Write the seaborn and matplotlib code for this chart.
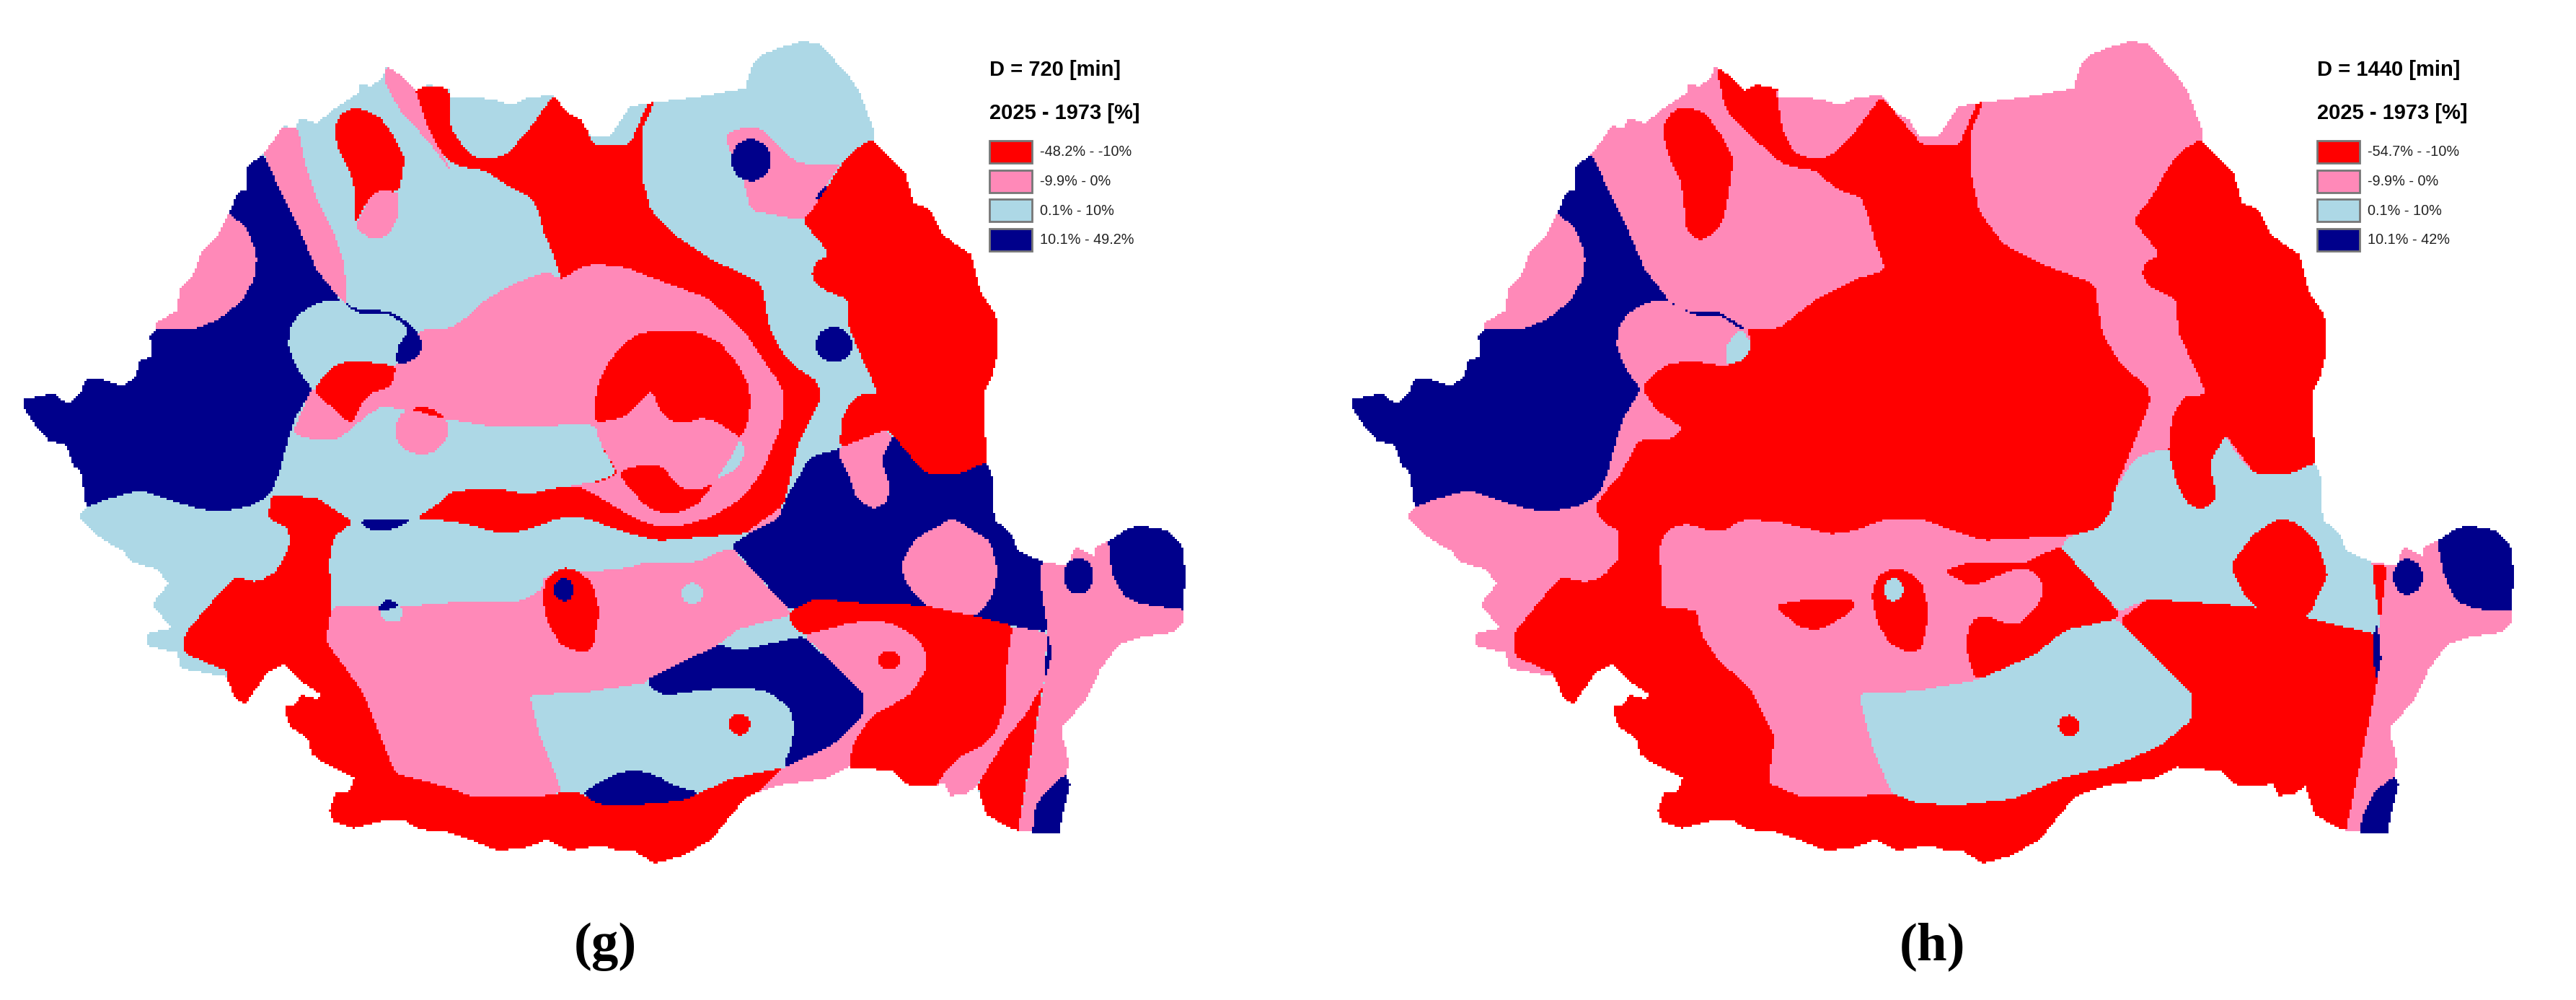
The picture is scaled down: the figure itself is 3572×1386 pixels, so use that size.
import numpy as np
import matplotlib
matplotlib.use("Agg")
import matplotlib.pyplot as plt
from matplotlib.colors import ListedColormap
from matplotlib.patches import Rectangle
from matplotlib.path import Path
import seaborn as sns

#Class colours and labels
class_colors = ["#FF0000", "#FF89B8", "#ADD8E6", "#00008B"]
RED, PINK, BLUE, NAVY = 0, 1, 2, 3
labels_g = ["-48.2% - -10%", "-9.9% - 0%", "0.1% - 10%", "10.1% - 49.2%"]
labels_h = ["-54.7% - -10%", "-9.9% - 0%", "0.1% - 10%", "10.1% - 42%"]

#Traced map vertices (units of the tracing sheet, scaled to pixels below)
outline = [(30,1240),(45,1232),(65,1222),(82,1255),(98,1220),(104,1180),(120,1175),(148,1198),(165,1170),(170,1115),(185,1110),(182,1040),(190,1020),(190,1000),(215,965),(218,900),(235,850),(245,780),(262,740),(278,660),(290,595),(300,590),(300,520),(318,480),(328,450),(345,390),(358,400),(365,365),(385,382),(410,330),(435,290),(438,258),(450,270),(465,240),(470,205),(490,240),(505,280),(520,262),(545,275),(548,300),(575,300),(600,310),(622,325),(645,300),(672,298),(690,350),(705,370),(718,425),(742,420),(765,330),(795,318),(850,300),(905,275),(915,195),(925,170),(945,150),(975,128),(995,135),(1015,190),(1030,230),(1045,290),(1052,340),(1063,415),(1060,432),(1080,490),(1100,540),(1110,630),(1130,650),(1145,730),(1180,790),(1190,900),(1210,980),(1212,1100),(1205,1170),(1195,1220),(1198,1430),(1205,1480),(1208,1613),(1228,1658),(1237,1710),(1266,1744),(1291,1755),(1305,1751),(1300,1729),(1307,1699),(1330,1729),(1330,1699),(1346,1680),(1371,1639),(1387,1632),(1419,1647),(1436,1695),(1440,1776),(1437,1896),(1436,1941),(1423,1964),(1384,1979),(1359,2001),(1337,2076),(1319,2173),(1291,2255),(1291,2292),(1296,2330),(1298,2382),(1294,2404),(1300,2434),(1291,2524),(1287,2586),(1265,2588),(1232,2576),(1198,2531),(1187,2442),(1173,2464),(1155,2472),(1146,2427),(1139,2438),(1105,2442),(1083,2390),(1069,2390),(1030,2382),(1005,2416),(947,2438),(908,2472),(890,2524),(865,2606),(830,2656),(795,2681),(770,2641),(750,2641),(730,2624),(692,2641),(665,2606),(640,2631),(605,2641),(570,2606),(540,2581),(510,2576),(490,2546),(460,2551),(430,2571),(405,2551),(400,2516),(408,2461),(425,2456),(430,2416),(395,2371),(378,2341),(375,2296),(352,2256),(345,2196),(360,2186),(365,2156),(385,2171),(390,2156),(365,2116),(345,2063),(325,2086),(312,2136),(297,2188),(285,2166),(275,2101),(220,2076),(215,2026),(180,2006),(180,1966),(208,1951),(185,1876),(205,1811),(190,1766),(160,1746),(150,1711),(125,1676),(95,1606),(105,1576),(98,1460),(90,1450),(80,1380),(60,1370),(45,1330),(30,1270)]

navy_west = [(320,478),(340,590),(365,720),(385,840),(415,935),(390,935),(365,970),(352,1015),(350,1080),(365,1160),(380,1210),(360,1290),(352,1345),(340,1460),(330,1530),(322,1546),(305,1570),(270,1588),(240,1580),(200,1546),(170,1522),(130,1550),(100,1580),(0,1580),(0,900),(150,478)]
pink_lobe = [(278,660),(300,710),(312,790),(310,860),(295,930),(270,985),(240,1020),(100,1020),(150,700),(270,640)]

#Panel g regions
g_pink_stripe = [(330,400),(362,395),(370,500),(385,620),(405,720),(418,820),(422,940),(415,935),(385,840),(365,720),(340,590),(320,478)]
g_north_strip = [(470,200),(490,240),(505,280),(520,400),(540,490),(548,535),(530,470),(510,410),(485,340),(465,240)]
g_red_oval = [(432,332),(415,350),(405,400),(412,470),(425,530),(432,600),(430,700),(440,650),(458,590),(485,597),(492,490),(478,420),(460,360)]
g_pink_oval = [(458,590),(485,597),(483,680),(470,735),(452,745),(435,715),(432,700),(445,630)]
g_red_north = [(503,270),(545,270),(548,400),(570,480),(592,497),(615,480),(640,410),(672,298),(700,300),(720,450),(765,450),(790,300),(795,318),(780,400),(780,550),(790,650),(820,730),(860,800),(925,880),(935,1020),(952,1101),(964,1135),(993,1184),(998,1232),(969,1381),(961,1471),(956,1523),(952,1568),(904,1658),(864,1665),(800,1679),(756,1650),(712,1609),(680,1608),(640,1646),(610,1658),(580,1636),(550,1618),(505,1611),(530,1568),(550,1525),(600,1515),(640,1535),(680,1512),(704,1512),(750,1471),(730,1381),(722,1318),(722,1000),(682,870),(672,790),(660,720),(655,660),(645,610),(625,590),(610,565),(590,530),(555,515),(540,490),(520,400)]
g_pink_center = [(682,870),(705,830),(725,820),(760,830),(800,870),(860,925),(904,1030),(926,1113),(950,1202),(952,1262),(949,1322),(926,1464),(902,1546),(864,1605),(835,1628),(809,1637),(788,1628),(756,1587),(727,1542),(704,1512),(689,1508),(730,1495),(751,1471),(730,1381),(722,1318),(600,1325),(540,1300),(465,1260),(445,1290),(430,1325),(410,1365),(380,1365),(355,1345),(378,1210),(482,1137),(513,1020),(545,1020),(565,990),(590,930),(625,880),(665,842)]
g_red_tri = [(380,1210),(405,1135),(430,1118),(482,1137),(475,1200),(450,1220),(435,1270),(428,1320),(405,1270)]
g_navy_crescent = [(415,935),(435,962),(470,965),(490,990),(510,1040),(513,1080),(505,1115),(482,1137),(482,1080),(497,1025),(475,975),(440,978),(425,955)]
g_red_cap = [(497,1270),(515,1262),(530,1275),(540,1300)]
g_red_center = [(723,1314),(721,1269),(727,1187),(742,1113),(765,1053),(783,1030),(847,1030),(873,1060),(896,1128),(908,1187),(912,1247),(908,1314),(899,1363),(888,1337),(870,1310),(853,1296),(844,1308),(813,1308),(800,1269),(793,1217),(787,1221),(759,1296)]
g_blue_lens = [(899,1363),(905,1393),(901,1434),(888,1467),(870,1490),(888,1419)]
g_red_lower = [(751,1471),(766,1449),(802,1445),(812,1471),(823,1508),(835,1521),(850,1520),(867,1501),(847,1568),(826,1590),(803,1594),(783,1568),(765,1516)]
g_pink_corner = [(952,1568),(946,1609),(934,1639),(911,1654),(904,1658)]
g_navy_small = [(1005,575),(992,600),(992,625),(998,630),(1010,590)]
g_ne_pink = [(880,420),(905,392),(925,400),(945,450),(965,500),(985,512),(1022,507),(1005,570),(990,640),(975,685),(950,672),(912,652),(902,550),(885,460)]
g_east_red = [(1060,432),(1040,460),(1022,510),(1005,580),(990,640),(975,685),(1008,790),(990,815),(985,860),(1000,900),(1030,930),(1030,1010),(1045,1100),(1067,1225),(1050,1222),(1035,1240),(1022,1300),(1020,1390),(1075,1335),(1085,1350),(1100,1400),(1125,1470),(1168,1470),(1200,1432),(1300,1400),(1300,400)]
g_navy_ne = [(888,1695),(911,1654),(946,1609),(955,1546),(972,1471),(984,1419),(1019,1393),(1085,1350),(1100,1400),(1125,1470),(1168,1470),(1200,1432),(1300,1600),(1265,1747),(1264,1792),(1266,1852),(1273,1964),(1230,1943),(1187,1915),(1126,1882),(1048,1873),(992,1858),(960,1897)]
g_pink_lens = [(1018,1392),(1075,1335),(1085,1355),(1070,1430),(1080,1500),(1078,1560),(1060,1582),(1040,1546),(1035,1500),(1020,1420)]
g_pink_se_lens = [(1157,1608),(1112,1673),(1095,1747),(1099,1807),(1126,1885),(1187,1915),(1205,1852),(1212,1777),(1203,1680)]
g_red_south = [(330,1535),(325,1610),(350,1640),(352,1696),(335,1776),(312,1808),(285,1791),(265,1846),(225,1966),(222,2026),(278,2086),(200,2700),(1000,2700),(951,2384),(890,2416),(850,2461),(830,2486),(765,2501),(725,2496),(705,2461),(680,2461),(650,2476),(575,2476),(545,2445),(480,2401),(440,2146),(396,1991),(403,1886),(400,1746),(405,1666),(430,1621),(385,1546)]
g_pink_south = [(403,1884),(490,1883),(570,1866),(635,1866),(660,1826),(658,1795),(690,1775),(735,1771),(768,1760),(785,1744),(845,1746),(888,1698),(960,1897),(958,1912),(897,1953),(873,2001),(785,2111),(785,2120),(710,2150),(643,2157),(655,2280),(683,2460),(650,2476),(575,2476),(545,2445),(480,2401),(440,2146),(396,1991)]
g_navy_mini = [(437,1614),(500,1614),(480,1640),(460,1652),(445,1640)]
g_red_egg = [(685,1761),(665,1790),(658,1850),(665,1930),(680,2000),(705,2026),(720,2015),(728,1900),(720,1810),(700,1770)]
g_blue_tiny = [(460,1888),(490,1882),(488,1925),(475,1935),(463,1920)]
g_navy_tiny = [(458,1902),(462,1875),(472,1858),(487,1882)]
g_navy_mid = [(785,2111),(795,2146),(810,2158),(860,2141),(905,2136),(933,2147),(958,2195),(965,2248),(962,2307),(951,2384),(1010,2315),(1047,2229),(1049,2151),(976,1975),(897,2020),(873,2001)]
g_navy_low = [(707,2461),(745,2405),(770,2390),(795,2405),(820,2440),(850,2461),(830,2486),(765,2501),(725,2496)]
g_red_se = [(958,1927),(960,1897),(992,1858),(1048,1873),(1123,1880),(1187,1915),(1230,1943),(1223,2061),(1221,2195),(1210,2270),(1191,2319),(1166,2348),(1151,2386),(1139,2438),(1100,2500),(1031,2420),(1031,2378),(1037,2307),(1058,2225),(1105,2158),(1126,2076),(1123,2009),(1101,1956),(1080,1934),(1058,1927),(1033,1934),(976,1973)]
g_pink_se = [(976,1973),(1033,1934),(1058,1927),(1080,1934),(1101,1956),(1123,2009),(1126,2076),(1105,2158),(1058,2225),(1037,2307),(1031,2378),(1031,2450),(900,2500),(915,2472),(951,2384),(1010,2315),(1047,2229),(1049,2151)]
g_pink_strip = [(1230,1943),(1272,1965),(1268,2124),(1248,2210),(1223,2289),(1187,2438),(1160,2500),(1135,2445),(1151,2386),(1166,2348),(1191,2319),(1210,2270),(1221,2195),(1223,2061)]
g_red_wedge = [(1267,2124),(1248,2210),(1223,2289),(1187,2438),(1198,2531),(1235,2600)]
g_pink_east = [(1265,1747),(1264,1792),(1266,1852),(1273,1964),(1268,2124),(1235,2600),(1300,2620),(1500,2500),(1500,1600),(1300,1650)]
g_navy_thin = [(1273,1964),(1278,2031),(1275,2061),(1268,2113)]
g_navy_delta = [(1346,1680),(1351,1785),(1366,1852),(1384,1874),(1437,1893),(1500,1893),(1500,1600),(1346,1600)]
g_navy_foot = [(1294,2404),(1273,2449),(1258,2502),(1253,2600),(1320,2600),(1320,2404)]

#Panel h regions (its own tracing sheet)
h_red_main = [(518,200),(600,250),(592,280),(600,410),(615,475),(640,497),(660,480),(685,420),(720,298),(770,450),(815,450),(840,300),(845,318),(830,400),(830,550),(840,660),(870,760),(925,830),(980,880),(990,1040),(1015,1140),(1045,1200),(1048,1250),(1005,1520),(1005,1546),(1000,1586),(985,1641),(950,1663),(845,1678),(800,1641),(770,1611),(725,1611),(690,1646),(660,1659),(630,1641),(590,1618),(550,1614),(530,1646),(510,1649),(485,1626),(460,1641),(450,1686),(452,1886),(495,1894),(500,1966),(520,2046),(560,2136),(590,2286),(582,2431),(625,2476),(700,2471),(732,2461),(760,2491),(810,2501),(880,2481),(940,2416),(1005,2376),(1060,2316),(1098,2236),(1100,2156),(1010,1926),(1045,1859),(1175,1884),(1240,1918),(1325,1971),(1325,2116),(1285,2600),(400,2800),(250,2100),(325,2096),(272,2036),(272,1966),(310,1846),(330,1791),(360,1808),(380,1791),(400,1736),(400,1646),(380,1621),(370,1576),(385,1520),(400,1480),(425,1365),(465,1362),(478,1330),(445,1270),(428,1208),(440,1165),(460,1130),(490,1120),(530,1137),(555,1115),(562,1065),(555,1020),(595,1020),(610,990),(640,930),(690,865),(725,840),(710,730),(705,680),(695,610),(672,595),(660,575),(640,530),(605,515),(590,490),(565,430),(530,340)]
h_navy_crescent = [(460,935),(480,965),(522,968),(545,1005),(555,1020),(547,1020),(525,980),(490,978),(478,960)]
h_blue_tiny = [(548,1020),(562,1065),(555,1115),(530,1137),(530,1075)]
h_red_oval = [(482,330),(465,345),(452,400),(460,480),(475,560),(480,640),(480,700),(490,740),(505,745),(525,700),(532,630),(540,490),(525,420),(505,350)]
h_blue_ne = [(1065,1392),(1030,1420),(1005,1520),(1000,1586),(985,1641),(950,1663),(938,1698),(1010,1900),(1045,1859),(1175,1884),(1240,1918),(1325,1971),(1328,1931),(1318,1746),(1322,1650),(1322,1400),(1250,1432),(1220,1470),(1175,1470),(1150,1400),(1140,1350),(1120,1440)]
h_east_red = [(1110,432),(1085,470),(1070,520),(1050,610),(1027,685),(1060,790),(1040,820),(1038,860),(1050,895),(1080,930),(1082,1030),(1100,1130),(1117,1225),(1090,1230),(1075,1290),(1070,1400),(1080,1500),(1095,1570),(1112,1582),(1130,1546),(1120,1440),(1140,1350),(1175,1470),(1220,1470),(1255,1430),(1350,1400),(1350,400)]
h_red_lens = [(1205,1608),(1175,1656),(1145,1756),(1160,1836),(1178,1891),(1240,1918),(1265,1786),(1250,1676),(1225,1621)]
h_red_sliver = [(1318,1751),(1337,1756),(1328,1931)]
h_navy_thin = [(1325,1931),(1330,2056),(1322,2116),(1320,1971)]
h_navy_delta = [(1398,1681),(1405,1776),(1420,1866),(1445,1891),(1490,1896),(1550,1896),(1550,1600),(1398,1600)]
h_navy_foot = [(1345,2411),(1320,2461),(1305,2546),(1305,2600),(1370,2600),(1370,2411)]
h_red_egg = [(735,1761),(715,1790),(708,1850),(715,1930),(730,2000),(755,2026),(770,2015),(778,1900),(770,1810),(750,1770)]
h_red_blotch = [(590,1879),(630,1861),(688,1861),(685,1896),(660,1936),(640,1958),(620,1946),(605,1916)]
h_red_tri = [(795,1774),(825,1746),(893,1749),(938,1696),(1010,1901),(1008,1921),(945,1956),(905,2036),(835,2113),(825,2036),(825,1956),(835,1916),(850,1914),(875,1938),(890,1936),(915,1866),(918,1816),(905,1771),(880,1768),(855,1796),(830,1821),(815,1801)]
h_blue_south = [(692,2154),(760,2146),(835,2113),(905,2036),(945,1956),(1008,1921),(1100,2156),(1098,2236),(1060,2316),(1005,2376),(940,2416),(880,2481),(810,2501),(760,2491),(732,2461),(710,2326)]

#Elliptic spots: centre x, centre y, radius x, radius y, class
g_spots = [(912,497,24,65,NAVY),(1013,1070,22,55,NAVY),(512,1335,32,75,PINK),(685,1831,12,35,NAVY),(841,1843,13,33,BLUE),(1080,2050,13,30,RED),(898,2249,13,33,RED),(1310,1788,18,56,NAVY)]
h_spots = [(735,1831,12,35,BLUE),(949,2254,13,33,RED),(1362,1791,18,55,NAVY)]

g_layers = [(navy_west,NAVY),(pink_lobe,PINK),(g_pink_stripe,PINK),(g_north_strip,PINK),(g_red_oval,RED),(g_pink_oval,PINK),(g_red_north,RED),(g_pink_center,PINK),(g_red_tri,RED),(g_navy_crescent,NAVY),(g_red_center,RED),(g_blue_lens,BLUE),(g_red_lower,RED),(g_pink_corner,PINK),(g_ne_pink,PINK),(g_navy_small,NAVY),(g_east_red,RED),(g_navy_ne,NAVY),(g_pink_lens,PINK),(g_pink_se_lens,PINK),(g_red_south,RED),(g_pink_south,PINK),(g_navy_mini,NAVY),(g_red_egg,RED),(g_blue_tiny,BLUE),(g_navy_tiny,NAVY),(g_navy_mid,NAVY),(g_navy_low,NAVY),(g_red_se,RED),(g_pink_se,PINK),(g_pink_strip,PINK),(g_red_wedge,RED),(g_pink_east,PINK),(g_navy_thin,NAVY),(g_navy_delta,NAVY),(g_navy_foot,NAVY)]
h_layers = [(h_red_main,RED),(h_navy_crescent,NAVY),(h_blue_tiny,BLUE),(h_red_oval,RED),(h_blue_ne,BLUE),(h_east_red,RED),(h_red_lens,RED),(h_red_sliver,RED),(h_navy_thin,NAVY),(h_navy_delta,NAVY),(h_navy_foot,NAVY),(h_red_egg,RED),(h_red_blotch,RED),(h_red_tri,RED),(h_blue_south,BLUE)]

#Sheet to pixel scales
Y_SCALE = 0.4464
G_X_SCALE = 1.1416
H_X_SCALE = 1.1371
H_X_OFFSET = 1790
PANEL_SHIFT = 1842
WIDTH, HEIGHT, CELL = 3573, 1386, 3

def g_px(points):
    pts = np.array(points, dtype=float)
    return np.column_stack([pts[:, 0] * G_X_SCALE, pts[:, 1] * Y_SCALE])

def h_px(points):
    pts = np.array(points, dtype=float)
    return np.column_stack([H_X_OFFSET + pts[:, 0] * H_X_SCALE, pts[:, 1] * Y_SCALE])

def round_corners(pts, cut=5.0):
    #The traced edges are curves in the picture: take the corners off, at most cut pixels
    for _ in range(2):
        nxt = np.roll(pts, -1, axis=0)
        step = nxt - pts
        t = np.minimum(0.25, cut / np.maximum(np.hypot(step[:, 0], step[:, 1]), 1e-6))[:, None]
        pts = np.column_stack([pts + step * t, nxt - step * t]).reshape(-1, 2)
        cut /= 2
    return pts

#Paint the class grid that the heatmap shows
xs = (np.arange(WIDTH // CELL) + 0.5) * CELL
ys = (np.arange(HEIGHT // CELL) + 0.5) * CELL
xx, yy = np.meshgrid(xs, ys)
cells = np.column_stack([xx.ravel(), yy.ravel()])
grid = np.full(xx.shape, -1.0)

def inside(poly):
    return Path(poly).contains_points(cells).reshape(xx.shape)

g_land = inside(g_px(outline))
h_land = inside(g_px(outline) + [PANEL_SHIFT, 0])
grid[g_land] = BLUE
grid[h_land] = PINK

for poly, cat in g_layers:
    grid[inside(round_corners(g_px(poly))) & g_land] = cat
for poly, cat in [(navy_west, NAVY), (pink_lobe, PINK)]:
    grid[inside(round_corners(g_px(poly)) + [PANEL_SHIFT, 0]) & h_land] = cat
for poly, cat in h_layers:
    grid[inside(round_corners(h_px(poly))) & h_land] = cat

for cx, cy, rx, ry, cat in g_spots:
    grid[((xx / G_X_SCALE - cx) / rx) ** 2 + ((yy / Y_SCALE - cy) / ry) ** 2 <= 1] = cat
for cx, cy, rx, ry, cat in h_spots:
    grid[(((xx - H_X_OFFSET) / H_X_SCALE - cx) / rx) ** 2 + ((yy / Y_SCALE - cy) / ry) ** 2 <= 1] = cat
grid[inside(g_px(g_red_cap))] = RED

#Draw
sns.set_theme(style="white")
plt.rcParams["font.family"] = ["Liberation Sans", "DejaVu Sans"]
fig = plt.figure(figsize=(WIDTH / 100, HEIGHT / 100), dpi=100)
ax = fig.add_axes([0, 0, 1, 1])
sns.heatmap(grid, mask=grid < 0, cmap=ListedColormap(sns.color_palette(class_colors)), vmin=-0.5, vmax=3.5,
            cbar=False, xticklabels=False, yticklabels=False, ax=ax)

#Overlay in pixel coordinates for the legends and panel letters
over = fig.add_axes([0, 0, 1, 1])
over.set_xlim(0, WIDTH)
over.set_ylim(HEIGHT, 0)
over.axis("off")

def draw_legend(x0, title, labels):
    over.text(x0, 97, title, fontsize=21, fontweight="bold", va="center", ha="left", color="black")
    over.text(x0, 157, "2025 - 1973 [%]", fontsize=21, fontweight="bold", va="center", ha="left", color="black")
    for i, label in enumerate(labels):
        top = 195 + i * 40.5
        over.add_patch(Rectangle((x0, top), 59, 31, facecolor=class_colors[i], edgecolor="#777777", linewidth=2))
        over.text(x0 + 70, top + 16, label, fontsize=14.3, va="center", ha="left", color="#222222")

draw_legend(1372, "D = 720 [min]", labels_g)
draw_legend(3213, "D = 1440 [min]", labels_h)

over.text(839, 1312, "(g)", fontsize=54, fontweight="bold", family="Liberation Serif", ha="center", va="center", color="black")
over.text(2680, 1312, "(h)", fontsize=54, fontweight="bold", family="Liberation Serif", ha="center", va="center", color="black")

fig.savefig("out.png", dpi=100)
